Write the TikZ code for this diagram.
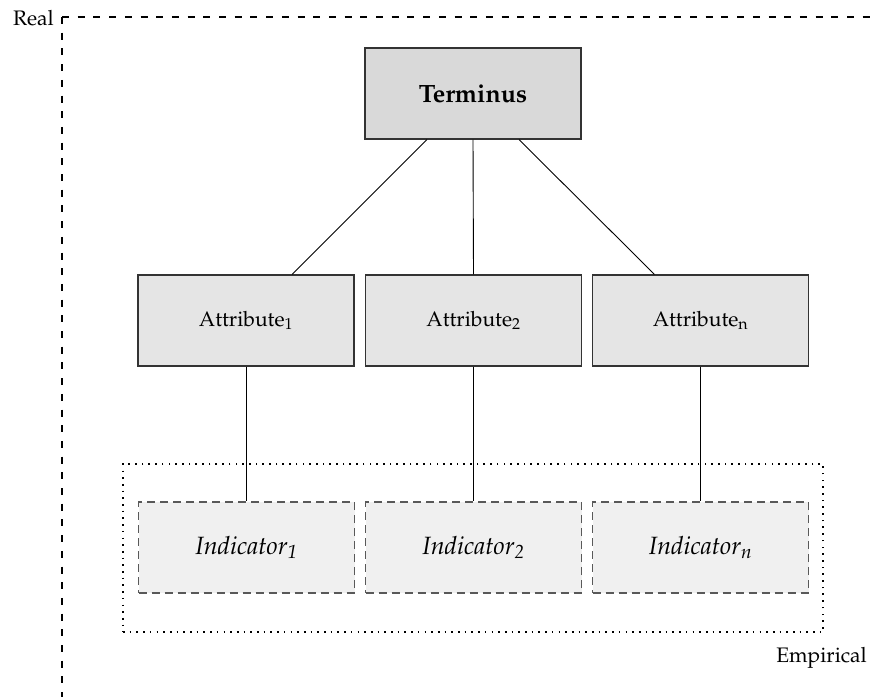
\documentclass[tikz,border=0pt]{standalone}
\usepackage[T1]{fontenc}
\usepackage{mathpazo}
\usetikzlibrary{calc}
\begin{document}
\begin{tikzpicture}[x=1pt,y=-1pt,
  box/.style={draw=black!80, line width=1.2pt, minimum width=216pt,
    minimum height=91pt, inner sep=0pt, font=\fontsize{21}{25}\selectfont},
  topbox/.style={box, fill=black!15, font=\fontsize{25}{30}\selectfont\bfseries},
  attrbox/.style={box, fill=black!10},
  indbox/.style={box, draw=black!65, dash pattern=on 8pt off 5pt,
    fill=black!6, font=\fontsize{25}{30}\selectfont\itshape},
  link/.style={line width=0.9pt},
  realframe/.style={line width=2pt, dash pattern=on 7pt off 8.7pt},
  empframe/.style={draw, line width=1.6pt, dash pattern=on 1.6pt off 5.1pt,
    minimum width=700pt, minimum height=168pt, inner sep=0pt},
  lbl/.style={font=\fontsize{21}{25}\selectfont, inner sep=0pt}]
\useasboundingbox (0,0) rectangle (872,697);

% outer "Real" frame: open to the right and bottom
\coordinate (rc) at (62,17);
\coordinate (rtop) at (872,17);
\coordinate (rbot) at (62,697);
\draw[realframe] (rc) -- (rtop);
\draw[realframe] (rc) -- (rbot);
\node[lbl, anchor=base east] (real) at (54,25) {Real};

% "Empirical" region
\node[empframe] (emp) at (473,548) {};
\node[lbl, anchor=base east] (emplbl) at (867,662) {Empirical};

% concept and its attributes
\node[topbox] (term) at (473,93.5) {Terminus};
\node[attrbox] (a1) at (246,320.5) {Attribute\textsubscript{1}};
\node[attrbox] (a2) at (473.5,320.5) {Attribute\textsubscript{2}};
\node[attrbox] (an) at (700.5,320.5) {Attribute\textsubscript{n}};

% indicators
\node[indbox] (i1) at (246.5,547.5) {Indicator\textsubscript{1}};
\node[indbox] (i2) at (473.5,547.5) {Indicator\textsubscript{2}};
\node[indbox] (in) at (700.5,547.5) {Indicator\textsubscript{n}};

% connectors
\draw[link] ($(term.south)+(-46,0)$) -- ($(a1.north)+(46,0)$);
\draw[link] (term.south) -- (a2.north);
\draw[link] ($(term.south)+(46,0)$) -- ($(an.north)+(-46,0)$);
\draw[link] (a1.south) -- (a1.south |- i1.north);
\draw[link] (a2.south) -- (i2.north);
\draw[link] (an.south) -- (in.north);
\end{tikzpicture}
\end{document}
